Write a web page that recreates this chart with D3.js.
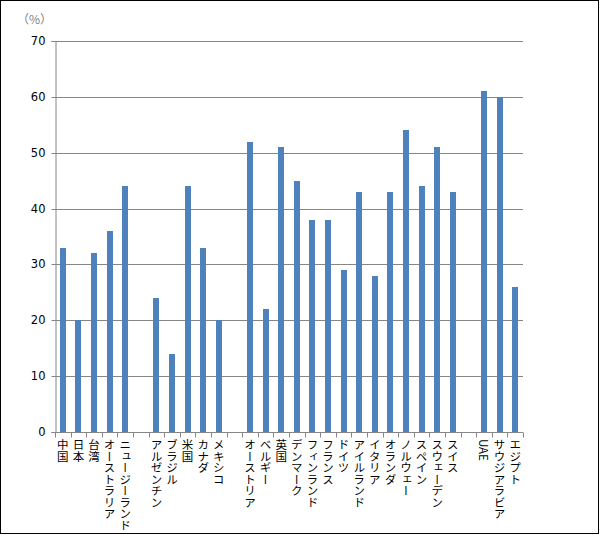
<!DOCTYPE html>
<html><head><meta charset="utf-8">
<script src="https://cdn.jsdelivr.net/npm/d3@7"></script>
<style>body{margin:0;background:#fff}svg{display:block}</style>
</head><body>
<script>
const categories = ["中国","日本","台湾","オーストラリア","ニュージーランド","",
  "アルゼンチン","ブラジル","米国","カナダ","メキシコ","",
  "オーストリア","ベルギー","英国","デンマーク","フィンランド","フランス","ドイツ","アイルランド","イタリア","オランダ","ノルウェー","スペイン","スウェーデン","スイス","",
  "UAE","サウジアラビア","エジプト"];
const values = [33,20,32,36,44,null,
  24,14,44,33,20,null,
  52,22,51,45,38,38,29,43,28,43,54,44,51,43,null,
  61,60,26];
const yTicks = [0,10,20,30,40,50,60,70];
const unitLabel = "（%）";

(function(){
const W = 600, H = 535;
const svg = d3.select("body").append("svg").attr("width", W).attr("height", H);
svg.append("rect").attr("x",0.5).attr("y",0.5).attr("width",W-2).attr("height",H-2)
  .attr("fill","#fff").attr("stroke","#000").attr("stroke-width",1);

const pLeft = 55, pRight = 523, pTop = 41, pBottom = 432;
const keys = categories.map((c,i)=>i);
const x = d3.scaleBand().domain(keys).range([pLeft,pRight]).paddingInner(0).paddingOuter(0);
const y = d3.scaleLinear().domain([0,70]).range([pBottom,pTop]);
const font = "'MS PGothic','Noto Sans CJK JP',sans-serif";

// gridlines
svg.append("g").selectAll("line").data(yTicks.filter(t=>t>0)).join("line")
  .attr("x1",pLeft).attr("x2",pRight)
  .attr("y1",d=>Math.round(y(d))+0.5).attr("y2",d=>Math.round(y(d))+0.5)
  .attr("stroke","#868686").attr("stroke-width",1);

// y axis
const yAxis = svg.append("g").attr("transform",`translate(${pLeft+0.5},0)`)
  .call(d3.axisLeft(y).tickValues(yTicks).tickSize(4).tickPadding(6));
yAxis.select(".domain").attr("stroke","#868686");
yAxis.selectAll(".tick line").attr("stroke","#868686");
yAxis.selectAll(".tick").attr("transform",d=>`translate(0,${Math.round(y(d))+0.5})`);
yAxis.selectAll(".tick text").attr("font-family","Verdana,'DejaVu Sans',sans-serif").attr("font-size",11.5).attr("fill","#000");

// bars
const bw = 6;
svg.append("g").selectAll("rect").data(keys.filter(i=>values[i]!=null)).join("rect")
  .attr("x",i=>Math.round(x(i)+x.bandwidth()/2-bw/2))
  .attr("width",bw)
  .attr("y",i=>Math.round(y(values[i])))
  .attr("height",i=>pBottom-Math.round(y(values[i])))
  .attr("fill","#4F81BD");

// x axis
const xg = svg.append("g").attr("transform",`translate(0,${pBottom+0.5})`);
xg.append("line").attr("x1",pLeft).attr("x2",pRight).attr("stroke","#868686");
const bounds = d3.range(categories.length+1).map(i=>pLeft + i*x.bandwidth());
xg.selectAll("line.tk").data(bounds).join("line").attr("class","tk")
  .attr("x1",d=>Math.round(d)+0.5).attr("x2",d=>Math.round(d)+0.5)
  .attr("y1",0).attr("y2",5).attr("stroke","#868686");

svg.append("g").selectAll("text").data(keys.filter(i=>categories[i]!=="")).join("text")
  .attr("x",i=>x(i)+x.bandwidth()/2)
  .attr("y",pBottom+7)
  .attr("style","writing-mode:vertical-rl;")
  .attr("font-family",font).attr("font-size",11.5).attr("fill","#000")
  .text(i=>categories[i]);

svg.append("text").attr("x",17).attr("y",24).attr("font-family",font)
  .attr("font-size",12).attr("fill","#7f7f7f").text(unitLabel);
})();
</script>
</body></html>
